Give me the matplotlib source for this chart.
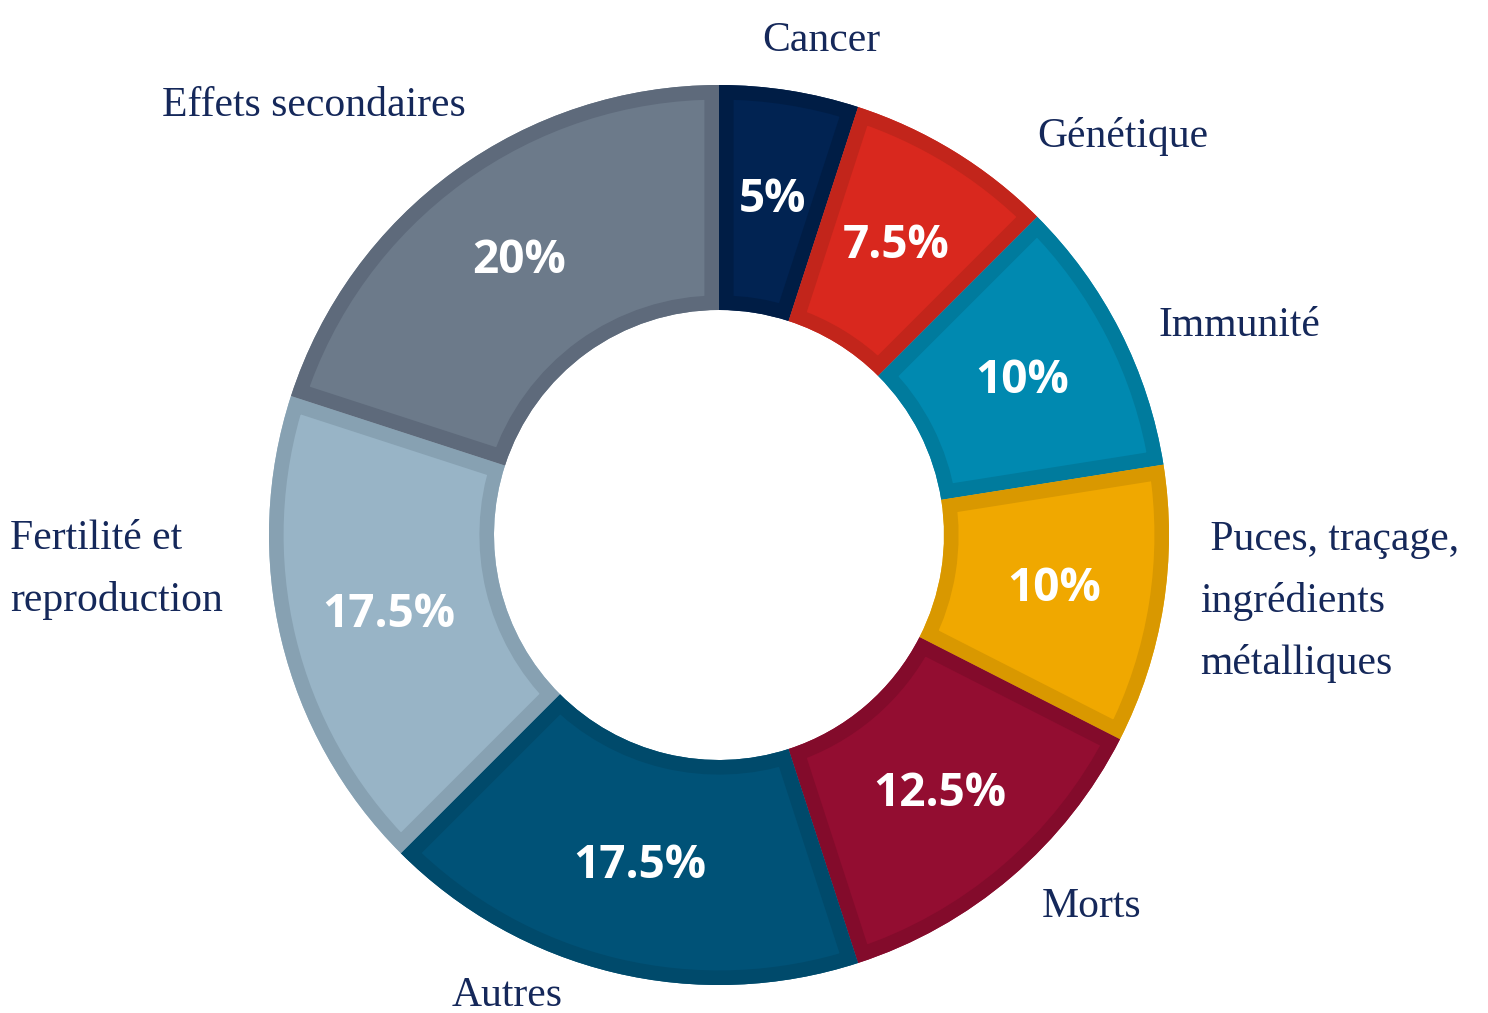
import matplotlib.pyplot as plt
from matplotlib.patches import PathPatch

# data
categories = ["Cancer", "Génétique", "Immunité", " Puces, traçage,\ningrédients\nmétalliques",
              "Morts", "Autres", "Fertilité et\nreproduction", "Effets secondaires"]
shares = [5, 7.5, 10, 10, 12.5, 17.5, 17.5, 20]

fills = ["#012352", "#d9281e", "#0089b0", "#f0a800", "#930d31", "#005277", "#98b4c6", "#6c7a8a"]
edges = ["#001d45", "#c2251b", "#007b9d", "#d99800", "#830b2b", "#004a6b", "#87a1b2", "#5e6a7b"]

# label placement (pixel coords, left edge / vertical centre)
label_pos = [(762, 41), (1037, 136), (1158, 326), (1200, 602),
             (1042, 907), (452, 996), (10, 570), (162, 106)]

W, H = 1488, 1013
fig = plt.figure(figsize=(W / 100, H / 100), dpi=100)
ax = fig.add_axes([0, 0, 1, 1])

cx, cy, R = 719, H - 535, 450

wedges, _, autotexts = ax.pie(
    shares, center=(cx, cy), radius=R, startangle=90, counterclock=False,
    colors=fills, wedgeprops=dict(width=R * 0.5, linewidth=0),
    autopct=lambda p: f"{p:.1f}".rstrip("0").rstrip(".") + "%", pctdistance=0.755,
    textprops=dict(color="white", fontsize=33, fontweight="bold", family="Open Sans"),
    frame=True)
ax.set_xlim(0, W)
ax.set_ylim(0, H)
ax.set_aspect("equal")
ax.axis("off")

# darker inner border on each wedge: thick stroke clipped to the wedge itself
for w, ec in zip(wedges, edges):
    border = PathPatch(w.get_path(), transform=ax.transData, facecolor="none",
                       edgecolor=ec, linewidth=21, zorder=w.get_zorder() + 0.5)
    ax.add_patch(border)
    border.set_clip_path(w.get_path(), ax.transData)

for t in autotexts:
    t.set_zorder(5)

for lab, (x, y) in zip(categories, label_pos):
    ax.text(x, H - y, lab, ha="left", va="center", fontsize=30, color="#15285a",
            family="Liberation Serif", linespacing=1.76)

fig.savefig("out.png", dpi=100)
